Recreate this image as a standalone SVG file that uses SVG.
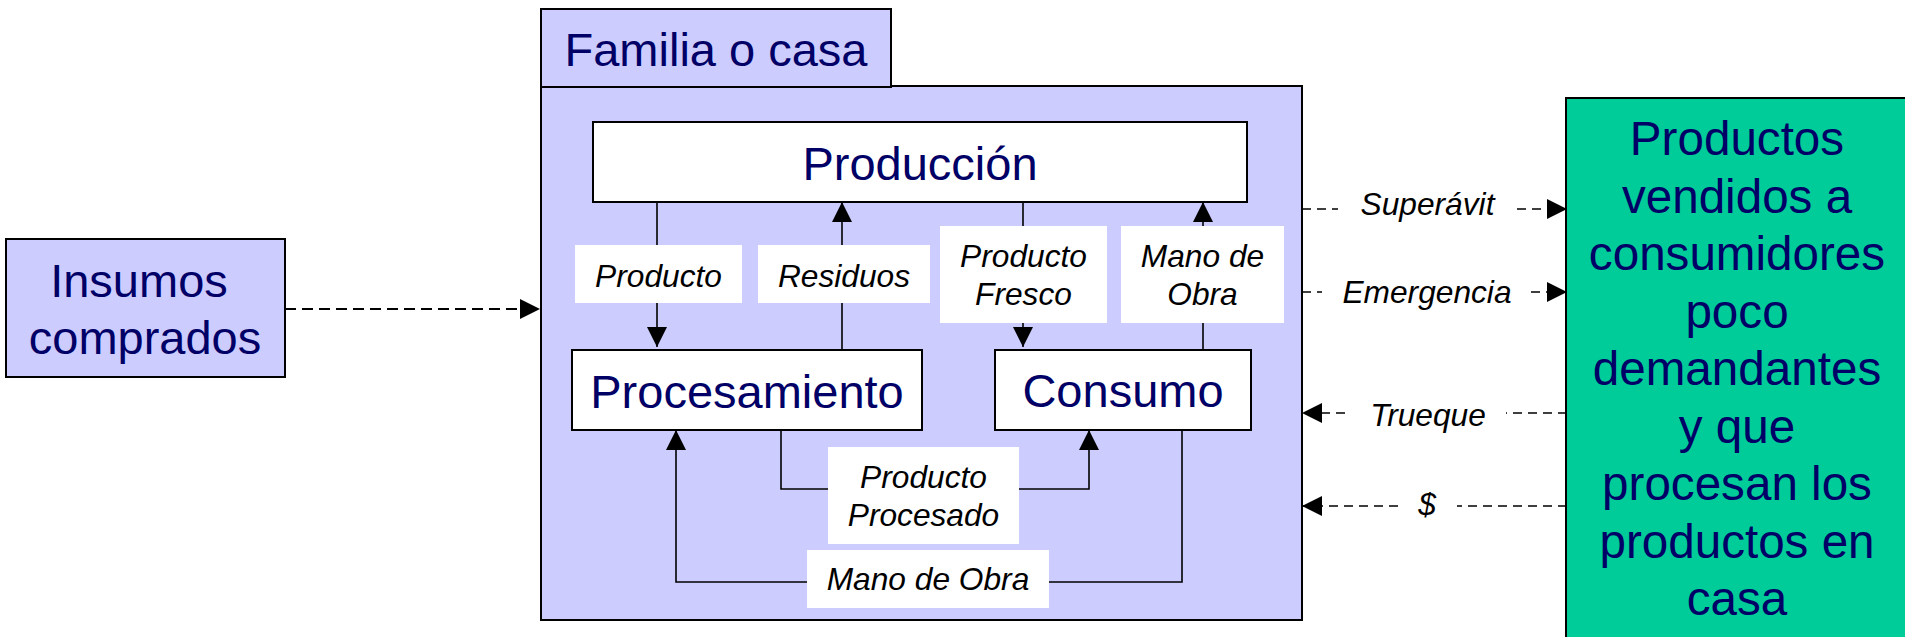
<svg xmlns="http://www.w3.org/2000/svg" width="1905" height="637" viewBox="0 0 1905 637">
<defs>
<style>
.box{stroke:#000;stroke-width:2}
.lav{fill:#CCCCFF}
.wht{fill:#FFFFFF}
.big{font-family:"Liberation Sans",Arial,sans-serif;font-size:47px;fill:#000066;text-anchor:middle}
.grn{font-size:47.6px}
.lbl{font-family:"Liberation Sans",Arial,sans-serif;font-size:31.7px;font-style:italic;fill:#000;text-anchor:middle}
.ln{fill:none;stroke:#000;stroke-width:1.6}
.dsh{fill:none;stroke:#000;stroke-width:1.6;stroke-dasharray:9,6}
.dshb{fill:none;stroke:#000;stroke-width:2;stroke-dasharray:11,6}
.lbg{fill:#FFFFFF}
</style>
<marker id="ah" markerUnits="userSpaceOnUse" markerWidth="20" markerHeight="20" refX="20" refY="10" orient="auto">
<path d="M0,0 L20,10 L0,20 z" fill="#000"/>
</marker>
</defs>
<rect width="1905" height="637" fill="#FFFFFF"/>

<g id="familia">
<rect class="box lav" x="541" y="86" width="761" height="534"/>
<rect class="box lav" x="541" y="9" width="350" height="78"/>
<text class="big" x="716" y="66">Familia o casa</text>
</g>

<g id="insumos">
<rect class="box lav" x="6" y="239" width="279" height="138"/>
<text class="big" x="139" y="297">Insumos</text>
<text class="big" x="145" y="354">comprados</text>
</g>

<g id="productos-vendidos">
<rect x="1566" y="98" width="400" height="600" fill="#00CC99" stroke="#000" stroke-width="2"/>
<text class="big grn" x="1737" y="155">Productos</text>
<text class="big grn" x="1737" y="212.5">vendidos a</text>
<text class="big grn" x="1737" y="270">consumidores</text>
<text class="big grn" x="1737" y="327.5">poco</text>
<text class="big grn" x="1737" y="385">demandantes</text>
<text class="big grn" x="1737" y="442.5">y que</text>
<text class="big grn" x="1737" y="500">procesan los</text>
<text class="big grn" x="1737" y="557.5">productos en</text>
<text class="big grn" x="1737" y="615">casa</text>
</g>

<g id="produccion">
<rect class="box wht" x="593" y="122" width="654" height="80"/>
<text class="big" x="920" y="180">Producción</text>
</g>

<g id="procesamiento">
<rect class="box wht" x="572" y="350" width="350" height="80"/>
<text class="big" x="747" y="408">Procesamiento</text>
</g>

<g id="consumo">
<rect class="box wht" x="995" y="350" width="256" height="80"/>
<text class="big" x="1123" y="407">Consumo</text>
</g>

<g id="connectors">
<path class="dshb" d="M285,309 H540" marker-end="url(#ah)"/>

<path class="ln" d="M657,202 V347" marker-end="url(#ah)"/>
<path class="ln" d="M842,350 V202" marker-end="url(#ah)"/>
<path class="ln" d="M1023,202 V347" marker-end="url(#ah)"/>
<path class="ln" d="M1203,350 V202" marker-end="url(#ah)"/>
<path class="ln" d="M781,430 V489 H1089 V430" marker-end="url(#ah)"/>
<path class="ln" d="M1182,430 V582 H676 V430" marker-end="url(#ah)"/>

<path class="dsh" d="M1302,209 H1338"/>
<path class="dsh" d="M1517,209 H1567" marker-end="url(#ah)"/>
<path class="dsh" d="M1302,292 H1322"/>
<path class="dsh" d="M1531,292 H1567" marker-end="url(#ah)"/>
<path class="dsh" d="M1345,413 H1302" marker-end="url(#ah)"/>
<path class="dsh" d="M1567,413 H1506"/>
<path class="dsh" d="M1398,506 H1302" marker-end="url(#ah)"/>
<path class="dsh" d="M1567,506 H1457"/>

<rect class="lbg" x="575" y="245" width="167" height="58"/>
<text class="lbl" x="658.5" y="287">Producto</text>
<rect class="lbg" x="758" y="245" width="172" height="58"/>
<text class="lbl" x="844" y="287">Residuos</text>
<rect class="lbg" x="940" y="226" width="167" height="97"/>
<text class="lbl" x="1023.5" y="267">Producto</text>
<text class="lbl" x="1023.5" y="305">Fresco</text>
<rect class="lbg" x="1121" y="226" width="163" height="97"/>
<text class="lbl" x="1202.5" y="267">Mano de</text>
<text class="lbl" x="1202.5" y="305">Obra</text>
<rect class="lbg" x="828" y="447" width="191" height="97"/>
<text class="lbl" x="923.5" y="488">Producto</text>
<text class="lbl" x="923.5" y="526">Procesado</text>
<rect class="lbg" x="807" y="550" width="242" height="58"/>
<text class="lbl" x="928" y="590">Mano de Obra</text>

<text class="lbl" x="1427.5" y="215">Superávit</text>
<text class="lbl" x="1427" y="303">Emergencia</text>
<text class="lbl" x="1428" y="426">Trueque</text>
<text class="lbl" x="1427" y="515">$</text>
</g>
</svg>
